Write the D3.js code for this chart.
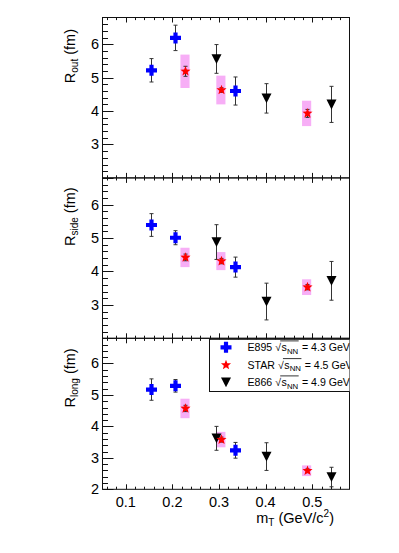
<!DOCTYPE html>
<html><head><meta charset="utf-8">
<script src="https://cdn.jsdelivr.net/npm/d3@7"></script>
<style>body{margin:0;background:#fff} svg{display:block} text{font-family:"Liberation Sans",Arial,Helvetica,sans-serif;fill:#000}</style>
</head><body><svg id="c" width="399" height="553"></svg>
<script>
// ---------- data ----------
const panelNames = ["out", "side", "long"];
const xTicks = [0.1, 0.2, 0.3, 0.4, 0.5];
const yTicks = [2, 3, 4, 5, 6];

// E895 sqrt(sNN)=4.3 GeV
const e895_mT = [0.154, 0.205, 0.335];
const e895_Rout = [5.22, 6.19, 4.60];
const e895_Rout_err = [0.35, 0.38, 0.42];
const e895_Rside = [5.39, 5.01, 4.13];
const e895_Rside_err = [0.34, 0.21, 0.30];
const e895_Rlong = [5.17, 5.29, 3.24];
const e895_Rlong_err = [0.34, 0.20, 0.25];

// STAR sqrt(sNN)=4.5 GeV
const star_mT = [0.227, 0.304, 0.488];
const star_Rout = [5.19, 4.63, 3.93];
const star_Rout_stat = [0.15, 0.07, 0.12];
const star_Rout_sys = [0.50, 0.43, 0.38];
const star_Rside = [4.42, 4.31, 3.53];
const star_Rside_stat = [0.10, 0.08, 0.08];
const star_Rside_sys = [0.29, 0.27, 0.235];
const star_Rlong = [4.57, 3.58, 2.59];
const star_Rlong_stat = [0.10, 0.08, 0.06];
const star_Rlong_sys = [0.31, 0.245, 0.17];

// E866 sqrt(sNN)=4.9 GeV
const e866_mT = [0.294, 0.401, 0.541];
const e866_Rout = [5.56, 4.38, 4.20];
const e866_Rout_err = [0.43, 0.44, 0.54];
const e866_Rside = [4.88, 3.10, 3.72];
const e866_Rside_err = [0.52, 0.55, 0.58];
const e866_Rlong = [3.62, 3.04, 2.39];
const e866_Rlong_err = [0.38, 0.44, 0.31];

const legendLabels = [
  {exp: "E895", energy: "4.3"},
  {exp: "STAR", energy: "4.5"},
  {exp: "E866", energy: "4.9"}
];

// ---------- layout ----------
const svg = d3.select("#c");
const X0 = 102.5, X1 = 349.5;
const panelBox = [
  {top: 17.5, bottom: 177.9, titleOff: 11.5},
  {top: 177.9, bottom: 338.3, titleOff: 9.5},
  {top: 338.3, bottom: 489.3, titleOff: 10}
];
const x = d3.scaleLinear().domain([0.05, 0.58]).range([X0, X1]);
const ySc = panelBox.map(p => d3.scaleLinear().domain([2, 6.8]).range([p.bottom, p.top]));

const data = {
  out:  {e895: e895_Rout, e895e: e895_Rout_err, star: star_Rout, stat: star_Rout_stat, sys: star_Rout_sys, e866: e866_Rout, e866e: e866_Rout_err},
  side: {e895: e895_Rside, e895e: e895_Rside_err, star: star_Rside, stat: star_Rside_stat, sys: star_Rside_sys, e866: e866_Rside, e866e: e866_Rside_err},
  long: {e895: e895_Rlong, e895e: e895_Rlong_err, star: star_Rlong, stat: star_Rlong_stat, sys: star_Rlong_sys, e866: e866_Rlong, e866e: e866_Rlong_err}
};

// marker paths
function crossPath(s) {
  const t = s * 0.38;
  return `M${-t},${-s}H${t}V${-t}H${s}V${t}H${t}V${s}H${-t}V${t}H${-s}V${-t}H${-t}Z`;
}
function starPath(R, r) {
  let p = "";
  for (let i = 0; i < 10; i++) {
    const a = -Math.PI / 2 + i * Math.PI / 5;
    const rr = i % 2 ? r : R;
    p += (i ? "L" : "M") + (rr * Math.cos(a)).toFixed(2) + "," + (rr * Math.sin(a)).toFixed(2);
  }
  return p + "Z";
}
function triDownPath(w, hTop, hBot) {
  return `M${-w},${-hTop}L${w},${-hTop}L0,${hBot}Z`;
}

const frameColor = "#111";
const errColor = "#333";
const sysFill = "#f7aef6";

const xMinor = d3.range(0.06, 0.58, 0.02).filter(v => Math.abs(v * 10 - Math.round(v * 10)) > 1e-6);
const yMinor = d3.range(2, 6.81, 0.2).filter(v => Math.abs(v - Math.round(v)) > 1e-6);

panelNames.forEach((name, i) => {
  const y = ySc[i];
  const pb = panelBox[i];
  const g = svg.append("g");
  const clipId = "clip" + i;
  svg.append("clipPath").attr("id", clipId)
    .append("rect").attr("x", X0).attr("y", pb.top).attr("width", X1 - X0).attr("height", pb.bottom - pb.top);
  const d = data[name];
  const plot = g.append("g").attr("clip-path", `url(#${clipId})`);

  // STAR systematic boxes
  plot.selectAll("rect.sys").data(star_mT).join("rect")
    .attr("x", (m) => x(m - 0.0098)).attr("width", (m) => x(m + 0.0098) - x(m - 0.0098))
    .attr("y", (m, k) => y(d.star[k] + d.sys[k]))
    .attr("height", (m, k) => y(d.star[k] - d.sys[k]) - y(d.star[k] + d.sys[k]))
    .attr("fill", sysFill);

  // error bars
  function errBars(mt, vals, errs) {
    mt.forEach((m, k) => {
      const cx = Math.round(x(m)) + 0.5;
      const y1 = y(vals[k] + errs[k]), y2 = y(vals[k] - errs[k]);
      plot.append("line").attr("x1", cx).attr("x2", cx).attr("y1", y1).attr("y2", y2)
        .attr("stroke", errColor).attr("stroke-width", 1);
      [y1, y2].forEach(yy => plot.append("line").attr("x1", cx - 2).attr("x2", cx + 2)
        .attr("y1", yy).attr("y2", yy).attr("stroke", errColor).attr("stroke-width", 1));
    });
  }
  errBars(e895_mT, d.e895, d.e895e);
  errBars(star_mT, d.star, d.stat);
  errBars(e866_mT, d.e866, d.e866e);

  // markers
  plot.selectAll("path.e866").data(e866_mT).join("path")
    .attr("transform", (m, k) => `translate(${Math.round(x(m)) + 0.5},${y(d.e866[k])})`)
    .attr("d", triDownPath(5, 4.8, 5)).attr("fill", "#000");
  plot.selectAll("path.star").data(star_mT).join("path")
    .attr("transform", (m, k) => `translate(${Math.round(x(m)) + 0.5},${y(d.star[k])})`)
    .attr("d", starPath(5.3, 2.3)).attr("fill", "#ff0000");
  plot.selectAll("path.e895").data(e895_mT).join("path")
    .attr("transform", (m, k) => `translate(${Math.round(x(m)) + 0.5},${y(d.e895[k])})`)
    .attr("d", crossPath(5.5)).attr("fill", "#0000ff");

  // frame
  g.append("rect").attr("x", X0).attr("y", pb.top).attr("width", X1 - X0).attr("height", pb.bottom - pb.top)
    .attr("fill", "none").attr("stroke", frameColor).attr("stroke-width", 1);

  // y ticks (left, inside)
  yTicks.concat(yMinor).forEach(v => {
    const major = Math.abs(v - Math.round(v)) < 1e-6;
    const yy = Math.round(y(v)) + 0.5;
    g.append("line").attr("x1", X0).attr("x2", X0 + (major ? 11 : 5.5)).attr("y1", yy).attr("y2", yy)
      .attr("stroke", frameColor).attr("stroke-width", 1);
  });
  yTicks.forEach(v => {
    if (v === 2 && i < 2) return;
    g.append("text").attr("x", 99).attr("y", y(v) + 5).attr("text-anchor", "end")
      .attr("font-size", 14.5).text(v);
  });

  // x ticks top (down) and bottom (up)
  xTicks.concat(xMinor).forEach(v => {
    const major = xTicks.some(t => Math.abs(t - v) < 1e-6);
    const xx = Math.round(x(v)) + 0.5;
    const L = major ? 5 : 2.6;
    g.append("line").attr("x1", xx).attr("x2", xx).attr("y1", pb.top).attr("y2", pb.top + L)
      .attr("stroke", frameColor).attr("stroke-width", 1);
    g.append("line").attr("x1", xx).attr("x2", xx).attr("y1", pb.bottom).attr("y2", pb.bottom - L)
      .attr("stroke", frameColor).attr("stroke-width", 1);
  });

  // y title
  const t = g.append("text")
    .attr("transform", `translate(75,${pb.top + pb.titleOff}) rotate(-90)`)
    .attr("text-anchor", "end").attr("font-size", 14.5);
  t.append("tspan").text("R");
  t.append("tspan").attr("font-size", 10).attr("dy", 3).text(name);
  t.append("tspan").attr("dy", -3).text(" (fm)");
});

// x tick labels
xTicks.forEach(v => {
  svg.append("text").attr("x", x(v)).attr("y", 506.5).attr("text-anchor", "middle")
    .attr("font-size", 14.5).text(v.toFixed(1));
});
// x title
const xt = svg.append("text").attr("x", 334).attr("y", 523).attr("text-anchor", "end").attr("font-size", 14.5);
xt.append("tspan").text("m");
xt.append("tspan").attr("font-size", 10).attr("dy", 3).text("T");
xt.append("tspan").attr("dy", -3).text(" (GeV/c");
xt.append("tspan").attr("font-size", 10).attr("dy", -6).text("2");
xt.append("tspan").attr("dy", 6).text(")");

// ---------- legend ----------
const lg = svg.append("g").attr("clip-path", "url(#clip2)");
const LX0 = 209.5, LY0 = 339.3, LY1 = 391.5;
lg.append("rect").attr("x", LX0).attr("y", LY0).attr("width", 360 - LX0).attr("height", LY1 - LY0)
  .attr("fill", "#fff").attr("stroke", "#111").attr("stroke-width", 1);
const rowY = [347.3, 365, 382.3];
const markerPaths = [crossPath(5.5), starPath(5.3, 2.3), triDownPath(5, 4.8, 5)];
const markerFills = ["#0000ff", "#ff0000", "#000"];
legendLabels.forEach((L, k) => {
  lg.append("path").attr("transform", `translate(226,${rowY[k]})`).attr("d", markerPaths[k]).attr("fill", markerFills[k]);
  const tx = lg.append("text").attr("x", 247.5).attr("y", rowY[k] + 3.8).attr("font-size", 10.6);
  tx.append("tspan").text(L.exp + " ");
  tx.append("tspan").text("\u221A");
  tx.append("tspan").attr("dx", 0.6).text("s");
  tx.append("tspan").attr("font-size", 7.8).attr("dy", 2.6).text("NN");
  tx.append("tspan").attr("dy", -2.6).attr("dx", 0.8).text(" = " + L.energy + " GeV");
  // overline of the radical
  const node = tx.node();
  const pre = (L.exp + " ").length;
  const end = node.getEndPositionOfChar(pre + 3).x;
  const radEnd = node.getEndPositionOfChar(pre).x;
  lg.append("line").attr("x1", radEnd - 0.8).attr("x2", end + 0.5)
    .attr("y1", rowY[k] - 6.4).attr("y2", rowY[k] - 6.4).attr("stroke", "#000").attr("stroke-width", 0.8);
});
</script></body></html>
